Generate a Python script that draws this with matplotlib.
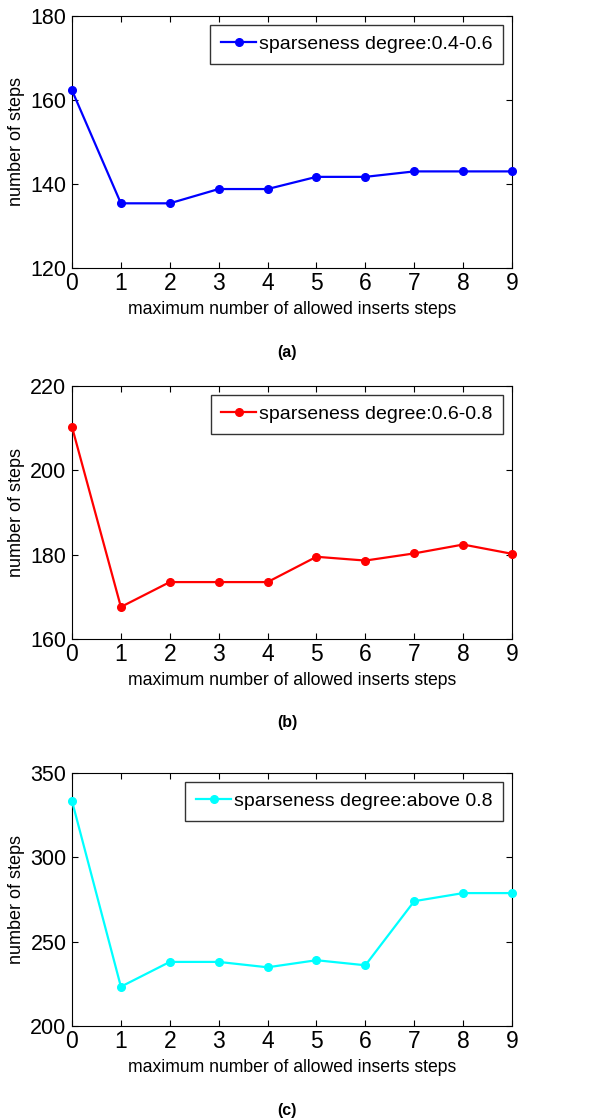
import numpy as np
import matplotlib
matplotlib.use('Agg')
import matplotlib.pyplot as plt

plt.rcParams['font.family'] = ['Liberation Sans', 'DejaVu Sans']

# data
x_steps = [0, 1, 2, 3, 4, 5, 6, 7, 8, 9]
steps_a = [162.3, 135.4, 135.4, 138.8, 138.8, 141.7, 141.7, 143.0, 143.0, 143.0]
steps_b = [210.3, 167.6, 173.5, 173.5, 173.5, 179.5, 178.6, 180.3, 182.4, 180.2]
steps_c = [333.4, 223.3, 238.0, 238.0, 234.8, 239.0, 236.0, 274.0, 278.8, 278.8]

labels = ['sparseness degree:0.4-0.6', 'sparseness degree:0.6-0.8',
          'sparseness degree:above 0.8']
colors = ['#0000FF', '#FF0000', '#00FFFF']
ylims = [(120, 180), (160, 220), (200, 350)]
yticks = [[120, 140, 160, 180], [160, 180, 200, 220], [200, 250, 300, 350]]
captions = ['(a)', '(b)', '(c)']
series = [steps_a, steps_b, steps_c]

W, H = 591, 1120
fig = plt.figure(figsize=(W / 100, H / 100), dpi=100)

# axes boxes in pixels: left, top, right, bottom
boxes = [(72, 16, 512, 268), (72, 386, 512, 639), (72, 773, 512, 1026)]
cap_y = [352, 722, 1110]

for i in range(3):
    l, t, r, b = boxes[i]
    ax = fig.add_axes([l / W, 1 - b / H, (r - l) / W, (b - t) / H])
    ax.plot(x_steps, series[i], color=colors[i], linewidth=1.6, marker='o',
            markersize=5.5, label=labels[i], clip_on=False, zorder=3)
    ax.set_xlim(0, 9)
    ax.set_ylim(*ylims[i])
    ax.set_xticks(x_steps)
    ax.set_yticks(yticks[i])
    ax.tick_params(direction='in', top=True, right=True, length=4, width=0.8)
    ax.tick_params(axis='x', labelsize=16.5, pad=3)
    ax.tick_params(axis='y', labelsize=15.5, pad=4)
    for s in ax.spines.values():
        s.set_linewidth(0.8)
    ax.set_xlabel('maximum number of allowed inserts steps', fontsize=12.7,
                  labelpad=4)
    ax.set_ylabel('number of steps', fontsize=13, labelpad=4)
    leg = ax.legend(loc='upper right', fontsize=14, frameon=True, fancybox=False,
                    edgecolor='black', borderpad=0.55, handlelength=1.8,
                    handletextpad=0.15, borderaxespad=0.45)
    leg.get_frame().set_linewidth(1.0)
    fig.text(287 / W, 1 - cap_y[i] / H, captions[i],
             ha='center', va='center', fontsize=11.5, fontweight='bold')

fig.savefig('out.png', dpi=100)
